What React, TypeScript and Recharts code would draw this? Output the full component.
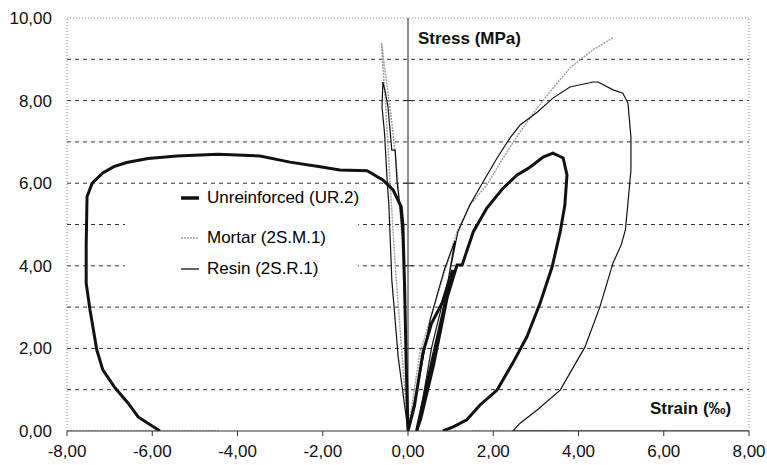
import React from 'react';
import { LineChart, Line, XAxis, YAxis, ReferenceLine, Legend } from 'recharts';

type Pt = [number, number];

const xTicks = [-8, -6, -4, -2, 0, 2, 4, 6, 8];
const yTicks = [0, 2, 4, 6, 8, 10];
const gridLevels = [1, 2, 3, 4, 5, 6, 7, 8, 9];
const axisMarks = [2, 4, 6, 8];

// unreinforced (UR.2): axial branch with one reload cycle, then lateral branch
const unreinforcedAxial: Pt[] = [
  [0, 0], [0.15, 0.6], [0.35, 1.89], [0.55, 2.6], [0.8, 3.1], [1.05, 3.9],
  [0.6, 1.6], [0.3, 0.3], [0.2, 0], [0.5, 1.4], [0.85, 3.0], [1.15, 4.02],
  [1.27, 4.02], [1.53, 4.82], [1.85, 5.4], [2.23, 5.88], [2.56, 6.2], [2.79, 6.34],
  [2.93, 6.44], [3.17, 6.63], [3.4, 6.73], [3.64, 6.61], [3.73, 6.2], [3.68, 5.47],
  [3.57, 4.82], [3.38, 3.97], [3.1, 3.1], [2.79, 2.28], [2.46, 1.65], [2.09, 0.99],
  [1.69, 0.63], [1.38, 0.27], [1.06, 0.1], [0.82, 0],
];
const unreinforcedLateral: Pt[] = [
  [0, 0], [-0.04, 1.5], [-0.08, 3.5], [-0.12, 5.0], [-0.16, 5.43], [-0.35, 5.84],
  [-0.59, 6.08], [-0.96, 6.3], [-1.6, 6.32], [-2.06, 6.4], [-2.77, 6.51], [-3.47, 6.66],
  [-4.46, 6.7], [-5.42, 6.66], [-6.1, 6.6], [-6.6, 6.5], [-6.9, 6.4], [-7.16, 6.25],
  [-7.41, 6.0], [-7.53, 5.67], [-7.55, 4.5], [-7.55, 3.58], [-7.46, 2.93], [-7.3, 1.96],
  [-7.16, 1.48], [-6.87, 1.04], [-6.57, 0.68], [-6.33, 0.34], [-5.82, 0],
];

// mortar (2S.M.1)
const mortarAxial: Pt[] = [
  [0, 0], [0.28, 1.89], [0.75, 3.49], [1.15, 4.82], [1.45, 5.47], [1.85, 5.96],
  [2.23, 6.61], [2.63, 7.24], [3.03, 7.82], [3.4, 8.3], [3.8, 8.79], [4.34, 9.23], [4.81, 9.52],
];
const mortarRest: Pt[] = [[1.5, 0], [3.73, 0]];
const mortarRestLeft: Pt[] = [[-8, 0], [-4.4, 0]];
const mortarLateral: Pt[] = [
  [0, 0], [-0.15, 2], [-0.3, 4], [-0.42, 6], [-0.52, 7.8], [-0.6, 9.0], [-0.62, 9.4],
  [-0.55, 8.8], [-0.47, 8.2], [-0.36, 7.3], [-0.25, 6.2], [-0.15, 4.8], [-0.07, 3.0],
  [-0.02, 1.2], [0, 0],
];

// resin (2S.R.1)
const resinAxial: Pt[] = [
  [0, 0], [0.25, 1.2], [0.52, 2.69], [0.85, 3.9], [1.1, 4.6], [0.7, 2.2], [0.35, 0.5],
  [0.22, 0], [0.55, 2.0], [0.95, 3.7], [1.17, 4.82], [1.45, 5.47], [1.76, 6.03],
  [2.09, 6.61], [2.39, 7.09], [2.63, 7.41], [3.03, 7.72], [3.4, 8.06], [3.8, 8.33],
  [4.34, 8.45], [4.46, 8.45], [4.81, 8.26], [5.04, 8.18], [5.16, 7.94], [5.23, 7.12],
  [5.23, 6.32], [5.16, 5.52], [5.1, 4.87], [5.0, 4.5], [4.81, 4.07], [4.5, 3.0],
  [4.15, 2.03], [3.57, 0.99], [3.03, 0.51], [2.63, 0.19], [2.46, 0], [8, 0],
];
const resinLateral: Pt[] = [
  [0, 0], [-0.23, 1.79], [-0.38, 3.66], [-0.45, 5.5], [-0.49, 6.08], [-0.55, 7.2],
  [-0.61, 7.85], [-0.59, 8.45], [-0.53, 8.2], [-0.47, 7.85], [-0.38, 6.8], [-0.3, 6.8],
  [-0.26, 6.08], [-0.19, 5.43], [-0.12, 4.62], [-0.1, 3.9], [-0.05, 2.0], [0, 0],
];

const joinSegments = (...segs: Pt[][]) => {
  const out: { x: number; y: number | null }[] = [];
  segs.forEach((seg, i) => {
    if (i > 0) out.push({ x: seg[0][0], y: null });
    seg.forEach(([x, y]) => out.push({ x, y }));
  });
  return out;
};

const unreinforcedData = joinSegments(unreinforcedAxial, unreinforcedLateral);
const mortarData = joinSegments(mortarAxial, mortarRest, mortarRestLeft, mortarLateral);
const resinData = joinSegments(resinAxial, resinLateral);

const FONT = 'Arial, "Liberation Sans", sans-serif';
const fmt = (v: number) => v.toFixed(2).replace('.', ',');

const legendRows = [
  { name: 'Unreinforced (UR.2)', color: '#111', width: 3.5, dash: undefined, top: 2 },
  { name: 'Mortar (2S.M.1)', color: '#a0a0a0', width: 1.5, dash: '2 1', top: 42 },
  { name: 'Resin (2S.R.1)', color: '#111', width: 1.3, dash: undefined, top: 73 },
];

const LegendBox = () => (
  <div style={{ position: 'relative', width: 233, height: 100, background: '#fff', fontFamily: FONT, fontSize: 17 }}>
    {legendRows.map((r) => (
      <div key={r.name} style={{ position: 'absolute', left: 56, top: r.top, height: 24, display: 'flex', alignItems: 'center', whiteSpace: 'nowrap', color: '#000' }}>
        <svg width={26} height={24} style={{ display: 'block' }}>
          <line x1={0} x2={18} y1={12} y2={12} stroke={r.color} strokeWidth={r.width} strokeDasharray={r.dash} />
        </svg>
        <span>{r.name}</span>
      </div>
    ))}
  </div>
);

export default function App() {
  return (
    <div style={{ position: 'absolute', left: 0, top: 0, width: 767, height: 465, background: '#fff', fontFamily: FONT }}>
      <LineChart width={767} height={465} margin={{ top: 18, right: 18, left: 0, bottom: 4 }}>
        <XAxis
          dataKey="x"
          type="number"
          domain={[-8, 8]}
          ticks={xTicks}
          tickFormatter={fmt}
          allowDataOverflow
          height={30}
          tickSize={5}
          tickMargin={9}
          stroke="#333"
          tick={{ fontFamily: FONT, fontSize: 17, fill: '#111' }}
        />
        <YAxis
          dataKey="y"
          type="number"
          domain={[0, 10]}
          ticks={yTicks}
          tickFormatter={fmt}
          allowDataOverflow
          width={67}
          axisLine={false}
          tickLine={false}
          tickMargin={9}
          tick={{ fontFamily: FONT, fontSize: 17, fill: '#111' }}
        />
        {gridLevels.map((v) => (
          <ReferenceLine key={`g${v}`} y={v} stroke="#333" strokeDasharray="4 4" strokeWidth={1} />
        ))}
        <ReferenceLine x={-8} stroke="#888" strokeDasharray="1 2" />
        <ReferenceLine x={8} stroke="#888" strokeDasharray="1 2" />
        <ReferenceLine y={10} stroke="#888" strokeDasharray="1 2" />
        <ReferenceLine x={0} stroke="#222" strokeWidth={1} />
        {axisMarks.map((v) => (
          <ReferenceLine key={`t${v}`} segment={[{ x: -0.12, y: v }, { x: 0.12, y: v }]} stroke="#222" />
        ))}
        <Legend
          layout="vertical"
          align="center"
          verticalAlign="middle"
          content={<LegendBox />}
          wrapperStyle={{ position: 'absolute', left: 125, top: 184, width: 233, height: 100 }}
        />
        <Line data={mortarData} dataKey="y" stroke="#a0a0a0" strokeWidth={1.5} strokeDasharray="2 1" dot={false} connectNulls={false} isAnimationActive={false} />
        <Line data={resinData} dataKey="y" stroke="#111" strokeWidth={1.2} dot={false} connectNulls={false} isAnimationActive={false} />
        <Line data={unreinforcedData} dataKey="y" stroke="#111" strokeWidth={3} dot={false} connectNulls={false} isAnimationActive={false} />
      </LineChart>
      <div style={{ position: 'absolute', left: 418, top: 30, fontSize: 17, fontWeight: 'bold', lineHeight: 1, color: '#111' }}>Stress (MPa)</div>
      <div style={{ position: 'absolute', left: 650, top: 400, fontSize: 17, fontWeight: 'bold', lineHeight: 1, color: '#111' }}>Strain (‰)</div>
    </div>
  );
}
